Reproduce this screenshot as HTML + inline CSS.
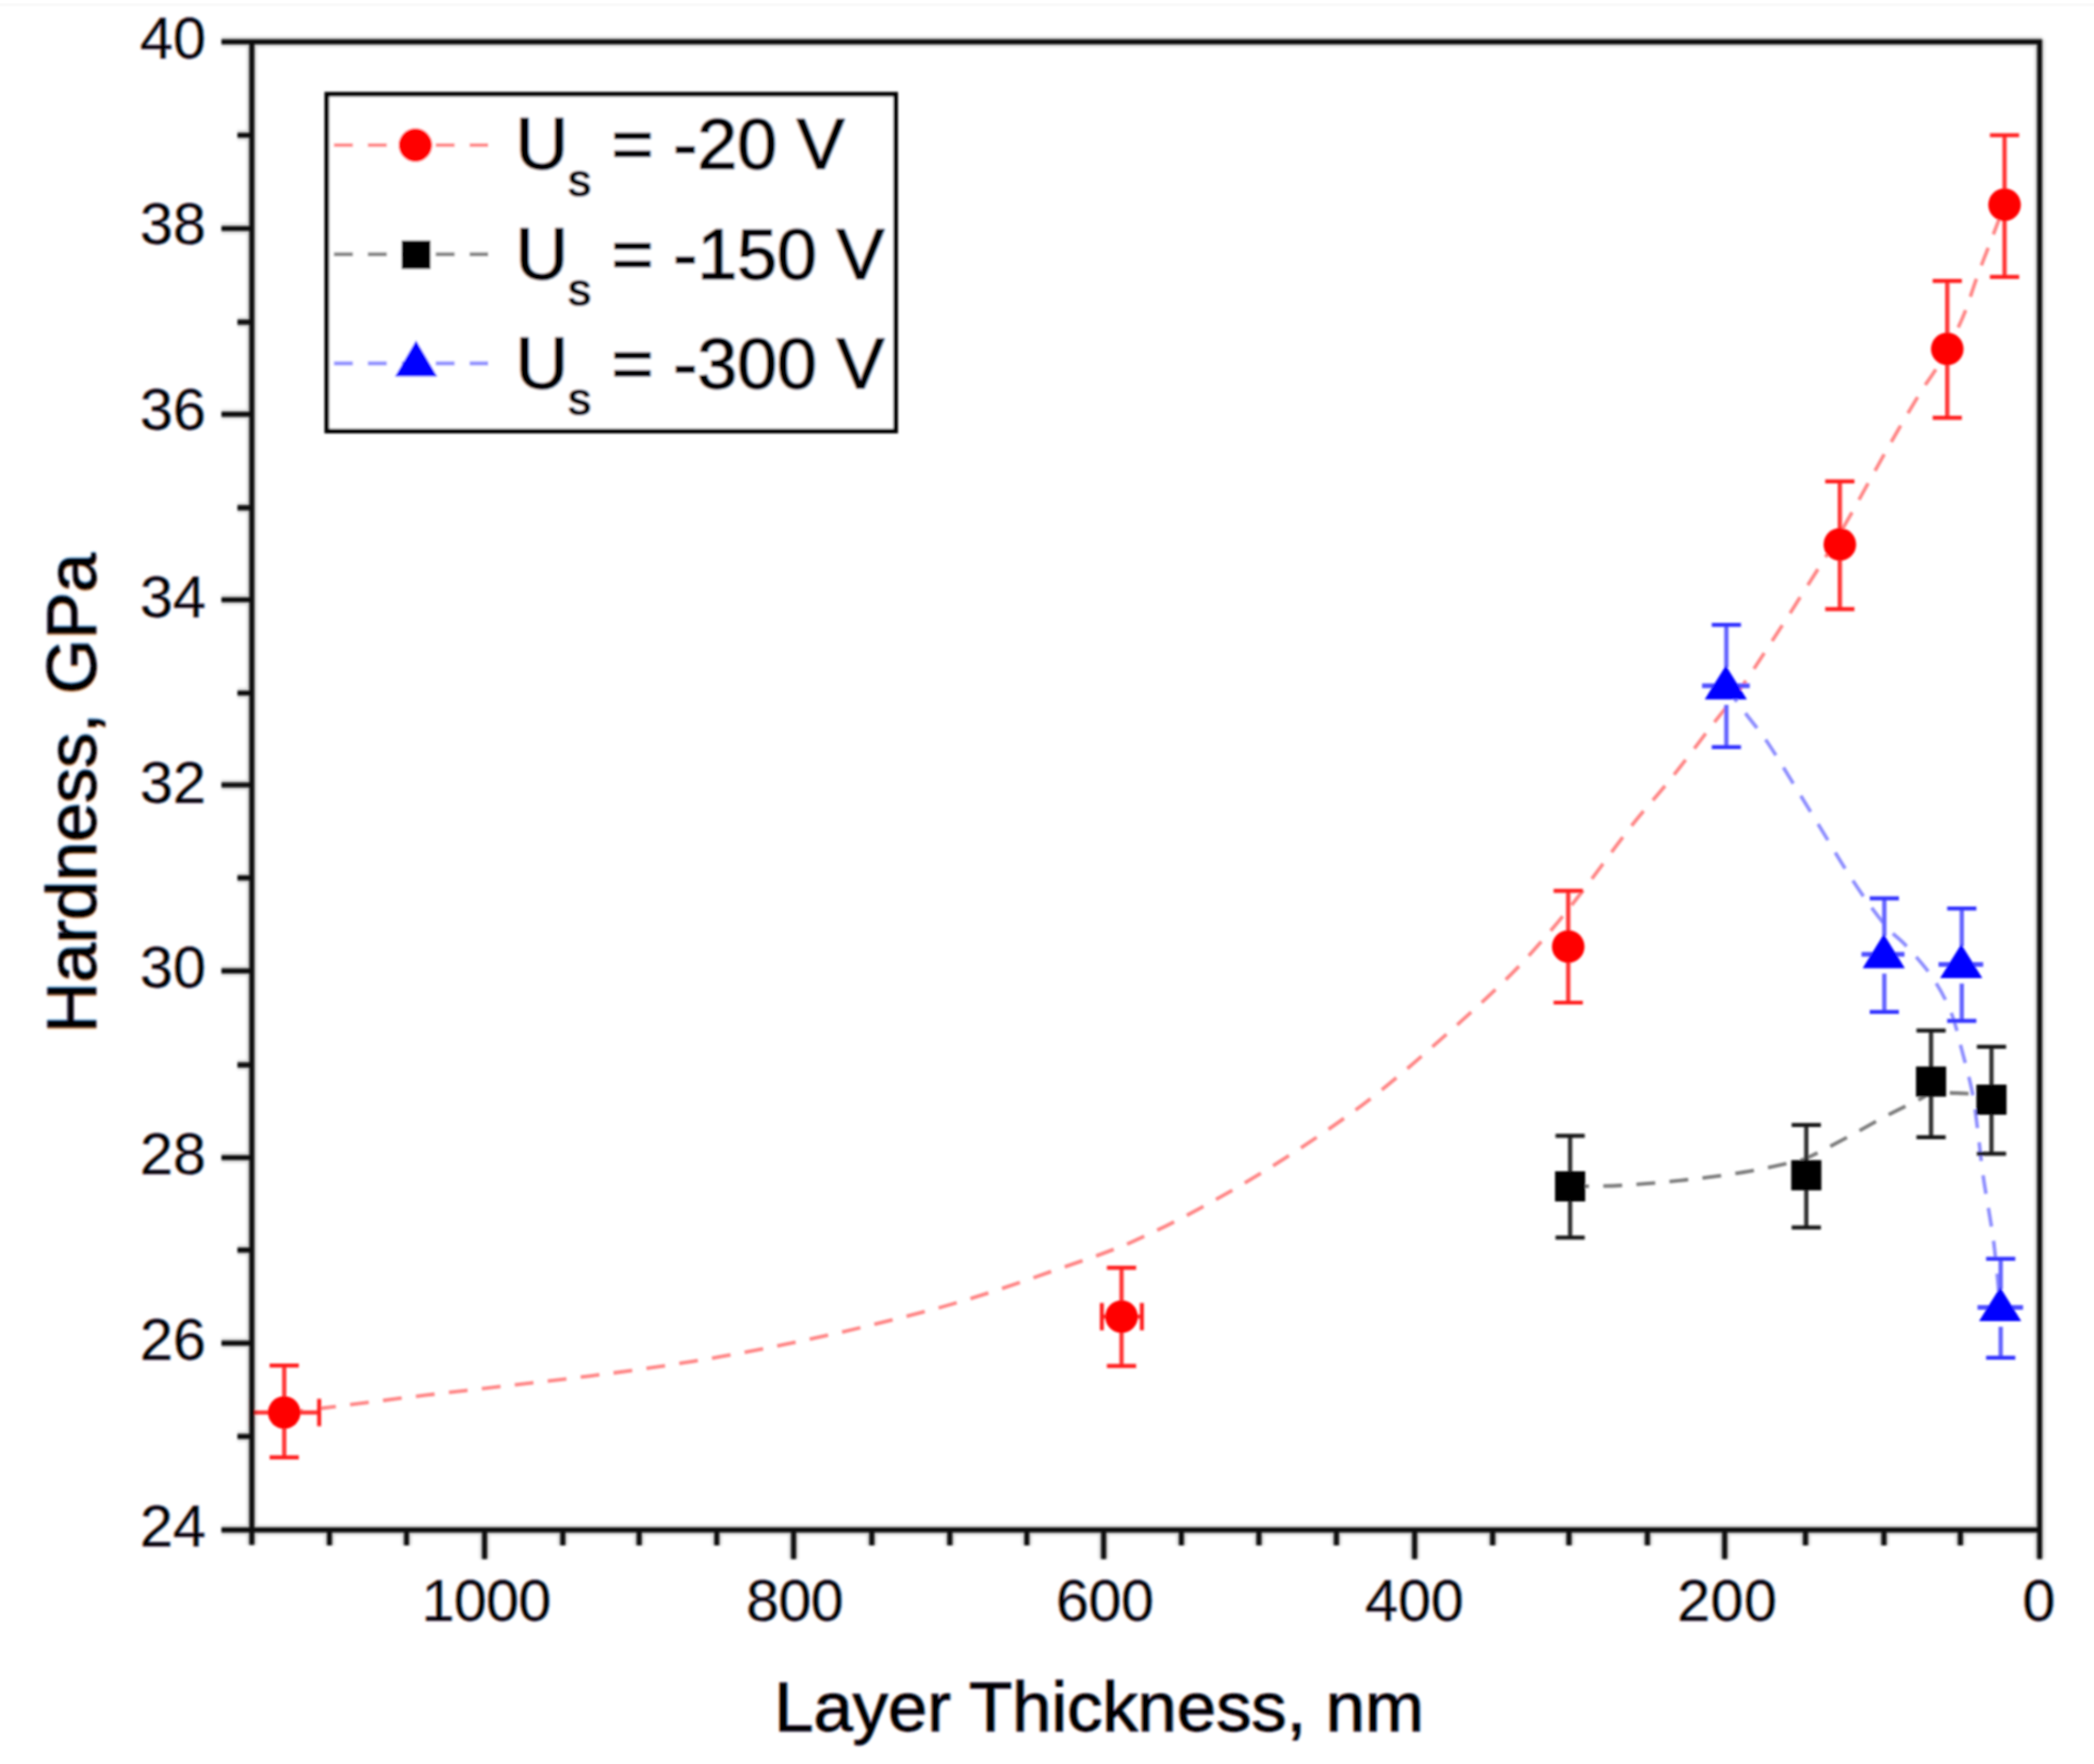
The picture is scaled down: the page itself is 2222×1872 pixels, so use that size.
<!DOCTYPE html>
<html lang="en">
<head>
<meta charset="utf-8">
<title>Hardness vs Layer Thickness</title>
<style>
html,body{margin:0;padding:0;background:#fff;}
body{width:2222px;height:1872px;overflow:hidden;}
svg{display:block;}
text{font-family:"Liberation Sans",Arial,Helvetica,sans-serif;fill:#000;stroke:#000;stroke-width:1.3px;stroke-linejoin:round;}
.tick text{stroke-width:0.3px;}
.leg{stroke-width:1.4px;}
.tick{font-size:63px;}
.ttl{font-size:75px;}
.leg{font-size:77.5px;}
</style>
</head>
<body>
<svg width="2222" height="1872" viewBox="0 0 2222 1872">
<defs><filter id="soft" x="-5%" y="-5%" width="110%" height="110%"><feGaussianBlur stdDeviation="1.15"/></filter>
<filter id="soft2" filterUnits="userSpaceOnUse" x="0" y="0" width="2222" height="1872"><feGaussianBlur stdDeviation="0.8"/></filter>
<filter id="ct" x="-10%" y="-30%" width="120%" height="160%"><feFlood flood-color="#ff8a2a" flood-opacity="0.5" result="o"/><feComposite in="o" in2="SourceAlpha" operator="in" result="oa"/><feOffset in="oa" dx="-1.2" result="oo"/><feFlood flood-color="#2a9bff" flood-opacity="0.5" result="b"/><feComposite in="b" in2="SourceAlpha" operator="in" result="ba"/><feOffset in="ba" dx="1.2" result="bo"/><feMerge><feMergeNode in="oo"/><feMergeNode in="bo"/><feMergeNode in="SourceGraphic"/></feMerge></filter></defs>
<rect width="2222" height="1872" fill="#fff"/>
<rect x="0" y="3.5" width="2222" height="3" fill="#f9f9f9"/>
<g filter="url(#soft)">
<path d="M301.6 1499.0 C314.8 1497.5 328.0 1496.1 341.2 1494.5 C377.8 1490.0 414.4 1485.1 451.0 1480.7 C482.8 1476.9 514.7 1473.4 546.5 1469.7 C578.3 1465.9 610.2 1462.4 642.0 1458.2 C673.9 1454.0 705.8 1449.5 737.6 1444.3 C769.5 1439.0 801.3 1433.2 833.0 1426.7 C865.0 1420.2 896.9 1413.0 928.6 1405.2 C960.6 1397.4 992.6 1389.4 1024.1 1379.9 C1056.2 1370.3 1087.9 1359.0 1119.6 1347.9 C1146.5 1338.5 1173.9 1329.8 1200.0 1318.4 C1229.0 1305.8 1257.3 1291.2 1285.0 1275.9 C1313.9 1260.0 1342.3 1242.9 1370.0 1224.9 C1399.0 1206.1 1427.7 1186.6 1455.0 1165.4 C1484.4 1142.6 1512.2 1117.8 1540.0 1093.1 C1561.8 1073.8 1583.3 1054.1 1603.8 1033.6 C1618.7 1018.7 1632.6 1002.8 1646.3 986.8 C1658.1 973.0 1669.2 958.7 1680.3 944.3 C1697.6 921.8 1713.8 898.6 1731.3 876.3 C1745.0 858.9 1760.1 842.6 1773.9 825.3 C1788.4 807.2 1802.2 788.4 1816.4 770.0 C1826.3 757.2 1836.7 744.9 1846.1 731.8 C1858.0 715.2 1868.9 697.9 1880.1 680.8 C1890.9 664.3 1901.5 647.7 1912.0 631.0 C1925.8 609.1 1939.9 587.3 1953.0 565.0 C1970.6 535.0 1986.8 504.2 2004.0 474.0 C2015.1 454.6 2026.3 435.3 2038.0 416.2 C2044.5 405.6 2052.3 395.8 2058.4 385.0 C2067.0 369.7 2075.3 354.1 2082.2 338.0 C2088.9 322.6 2093.3 306.2 2099.2 290.4 C2104.7 275.6 2110.6 261.0 2116.2 246.2 C2119.9 236.6 2123.4 226.9 2127.0 217.3" fill="none" stroke="#ff8484" stroke-width="3.8" stroke-dasharray="20 15.2"/>
<path d="M1666.1 1259.0 C1684.1 1258.7 1702.1 1259.0 1720.0 1258.0 C1743.4 1256.7 1766.7 1254.5 1790.0 1252.0 C1810.1 1249.8 1830.1 1247.3 1850.0 1244.0 C1866.8 1241.3 1883.4 1237.7 1900.0 1234.0 C1905.8 1232.7 1911.6 1231.4 1917.0 1229.0 C1931.6 1222.4 1945.8 1214.5 1960.0 1207.0 C1973.4 1199.9 1986.5 1192.1 2000.0 1185.0 C2013.2 1178.1 2026.7 1171.8 2040.0 1165.0 C2043.1 1163.4 2045.7 1160.5 2049.0 1160.0 C2057.4 1158.8 2066.3 1159.7 2075.0 1160.0 C2087.7 1160.4 2100.3 1161.3 2113.0 1162.0" fill="none" stroke="#7c7c7c" stroke-width="3.8" stroke-dasharray="20 15.2"/>
<path d="M1831.3 728.5 C1838.5 738.3 1845.7 748.2 1853.0 758.0 C1860.3 767.7 1868.2 777.0 1875.0 787.0 C1885.5 802.6 1895.1 819.0 1905.0 835.0 C1915.1 851.3 1925.0 867.7 1935.0 884.0 C1943.3 897.7 1951.4 911.5 1960.0 925.0 C1968.0 937.5 1976.3 950.0 1985.0 962.0 C1991.3 970.6 1997.9 979.1 2005.0 987.0 C2010.2 992.8 2016.8 997.2 2022.0 1003.0 C2031.9 1013.9 2042.1 1024.8 2050.3 1036.9 C2058.1 1048.4 2064.9 1060.9 2070.1 1073.7 C2075.3 1086.4 2078.0 1100.1 2081.5 1113.4 C2085.5 1128.5 2089.7 1143.5 2092.8 1158.8 C2095.4 1171.9 2096.8 1185.2 2098.5 1198.5 C2100.6 1214.5 2101.9 1230.7 2104.2 1246.7 C2107.6 1270.4 2112.4 1293.9 2115.5 1317.6 C2118.5 1341.0 2120.2 1364.5 2122.6 1388.0" fill="none" stroke="#8c8cff" stroke-width="3.8" stroke-dasharray="20 15.2"/>
<g class="tick" text-anchor="end" filter="url(#ct)">
<text transform="translate(218.6 61.7) scale(1 1)">40</text>
<text transform="translate(218.6 258.5) scale(1 1)">38</text>
<text transform="translate(218.6 456.0) scale(1 1)">36</text>
<text transform="translate(218.6 655.4) scale(1 1)">34</text>
<text transform="translate(218.6 851.5) scale(1 1)">32</text>
<text transform="translate(218.6 1048.2) scale(1 1)">30</text>
<text transform="translate(218.6 1245.8) scale(1 1)">28</text>
<text transform="translate(218.6 1443.3) scale(1 1)">26</text>
<text transform="translate(218.6 1640.5) scale(1 1)">24</text>
</g>
<g class="tick" text-anchor="middle" filter="url(#ct)">
<text letter-spacing="-0.8" transform="translate(515.8 1720.3) scale(1 1)">1000</text>
<text letter-spacing="-0.8" transform="translate(843.1 1720.3) scale(1 1)">800</text>
<text letter-spacing="-0.5" transform="translate(1172.2 1720.3) scale(1 1)">600</text>
<text letter-spacing="-0.2" transform="translate(1500.8 1720.3) scale(1 1)">400</text>
<text letter-spacing="0.4" transform="translate(1832.8 1720.3) scale(1 1)">200</text>
<text letter-spacing="0" transform="translate(2163.4 1720.3) scale(1 1)">0</text>
</g>
<text filter="url(#ct)" class="ttl" x="821.5" y="1836.6" letter-spacing="-0.06">Layer Thickness, nm</text>
<text filter="url(#ct)" class="ttl" transform="translate(101.7 1096.5) rotate(-90)" letter-spacing="-0.27">Hardness, GPa</text>
<path d="M301.6 1449.2V1546.7" stroke="#ff3838" stroke-width="4.6" fill="none"/>
<path d="M286.1 1449.2H317.1M286.1 1546.7H317.1" stroke="#ff1c1c" stroke-width="4.2" fill="none"/>
<path d="M267.0 1499.0H338.7" stroke="#ff3838" stroke-width="4.6" fill="none"/>
<path d="M267.0 1484.5V1513.5M338.7 1484.5V1513.5" stroke="#ff1c1c" stroke-width="4.2" fill="none"/>
<path d="M1190.1 1345.4V1449.7" stroke="#ff3838" stroke-width="4.6" fill="none"/>
<path d="M1174.6 1345.4H1205.6M1174.6 1449.7H1205.6" stroke="#ff1c1c" stroke-width="4.2" fill="none"/>
<path d="M1169.2 1397.3H1211.7" stroke="#ff3838" stroke-width="4.6" fill="none"/>
<path d="M1169.2 1382.8V1411.8M1211.7 1382.8V1411.8" stroke="#ff1c1c" stroke-width="4.2" fill="none"/>
<path d="M1664.1 945.4V1064.0" stroke="#ff3838" stroke-width="4.6" fill="none"/>
<path d="M1648.6 945.4H1679.6M1648.6 1064.0H1679.6" stroke="#ff1c1c" stroke-width="4.2" fill="none"/>
<path d="M1952.3 510.8V646.4" stroke="#ff3838" stroke-width="4.6" fill="none"/>
<path d="M1936.8 510.8H1967.8M1936.8 646.4H1967.8" stroke="#ff1c1c" stroke-width="4.2" fill="none"/>
<path d="M2066.3 298.2V443.4" stroke="#ff3838" stroke-width="4.6" fill="none"/>
<path d="M2050.8 298.2H2081.8M2050.8 443.4H2081.8" stroke="#ff1c1c" stroke-width="4.2" fill="none"/>
<path d="M2127.1 143.5V293.8" stroke="#ff3838" stroke-width="4.6" fill="none"/>
<path d="M2111.6 143.5H2142.6M2111.6 293.8H2142.6" stroke="#ff1c1c" stroke-width="4.2" fill="none"/>
<circle cx="301.6" cy="1499.0" r="17.3" fill="#ff0000"/>
<circle cx="1190.1" cy="1397.3" r="17.3" fill="#ff0000"/>
<circle cx="1664.1" cy="1004.6" r="17.3" fill="#ff0000"/>
<circle cx="1952.3" cy="577.8" r="17.3" fill="#ff0000"/>
<circle cx="2066.3" cy="370.3" r="17.3" fill="#ff0000"/>
<circle cx="2127.1" cy="217.3" r="17.3" fill="#ff0000"/>
<path d="M1666.1 1205.4V1313.3" stroke="#333333" stroke-width="4.6" fill="none"/>
<path d="M1650.6 1205.4H1681.6M1650.6 1313.3H1681.6" stroke="#141414" stroke-width="4.2" fill="none"/>
<path d="M1916.7 1193.8V1302.7" stroke="#333333" stroke-width="4.6" fill="none"/>
<path d="M1901.2 1193.8H1932.2M1901.2 1302.7H1932.2" stroke="#141414" stroke-width="4.2" fill="none"/>
<path d="M2049.1 1093.6V1206.9" stroke="#333333" stroke-width="4.6" fill="none"/>
<path d="M2033.6 1093.6H2064.6M2033.6 1206.9H2064.6" stroke="#141414" stroke-width="4.2" fill="none"/>
<path d="M2113.2 1110.8V1224.3" stroke="#333333" stroke-width="4.6" fill="none"/>
<path d="M2097.7 1110.8H2128.7M2097.7 1224.3H2128.7" stroke="#141414" stroke-width="4.2" fill="none"/>
<rect x="1650.1" y="1243.0" width="32" height="32" fill="#000"/>
<rect x="1900.7" y="1231.2" width="32" height="32" fill="#000"/>
<rect x="2033.1" y="1131.8" width="32" height="32" fill="#000"/>
<rect x="2097.2" y="1151.0" width="32" height="32" fill="#000"/>
<path d="M1831.9 663.2V708.5M1831.9 748.1V792.9" stroke="#6464ff" stroke-width="4.6" fill="none"/>
<path d="M1816.4 663.2H1847.4M1816.4 792.9H1847.4" stroke="#3030ff" stroke-width="4.2" fill="none"/>
<path d="M1806.1 727.7H1856.7" stroke="#5050ff" stroke-width="5" fill="none"/>
<path d="M1999.5 953.3V993.6M1999.5 1033.2V1073.9" stroke="#6464ff" stroke-width="4.6" fill="none"/>
<path d="M1984.0 953.3H2015.0M1984.0 1073.9H2015.0" stroke="#3030ff" stroke-width="4.2" fill="none"/>
<path d="M1975.3 1012.8H2020.9" stroke="#5050ff" stroke-width="5" fill="none"/>
<path d="M2081.7 964.2V1004.2M2081.7 1043.8V1083.4" stroke="#6464ff" stroke-width="4.6" fill="none"/>
<path d="M2066.2 964.2H2097.2M2066.2 1083.4H2097.2" stroke="#3030ff" stroke-width="4.2" fill="none"/>
<path d="M2057.0 1023.4H2104.4" stroke="#5050ff" stroke-width="5" fill="none"/>
<path d="M2123.0 1335.8V1368.3M2123.0 1407.9V1440.8" stroke="#6464ff" stroke-width="4.6" fill="none"/>
<path d="M2107.5 1335.8H2138.5M2107.5 1440.8H2138.5" stroke="#3030ff" stroke-width="4.2" fill="none"/>
<path d="M2098.4 1387.5H2146.7" stroke="#5050ff" stroke-width="5" fill="none"/>
<path d="M1831.3 706.2L1853.7 742.3H1808.9Z" fill="#0000ff"/>
<path d="M1998.9 991.3L2021.3 1027.4H1976.5Z" fill="#0000ff"/>
<path d="M2081.1 1001.9L2103.5 1038.0H2058.7Z" fill="#0000ff"/>
<path d="M2122.4 1366.0L2144.8 1402.1H2100.0Z" fill="#0000ff"/>
<path d="M235 44.3 H2166.9M235 1623.6 H2166.9M267.2 41.7 V1639.5M2164.3 41.7 V1654.5M252.0 143.5H267.2M235.0 242.5H267.2M252.0 341.9H267.2M235.0 439.6H267.2M252.0 538.8H267.2M235.0 636.5H267.2M252.0 735.5H267.2M235.0 833.0H267.2M252.0 931.7H267.2M235.0 1030.4H267.2M252.0 1130.1H267.2M235.0 1228.5H267.2M252.0 1326.6H267.2M235.0 1425.4H267.2M252.0 1524.4H267.2M349.6 1623.6V1640.0M431.4 1623.6V1640.0M514.2 1623.6V1654.5M597.2 1623.6V1640.0M678.2 1623.6V1640.0M760.6 1623.6V1640.0M842.1 1623.6V1654.5M925.1 1623.6V1640.0M1007.9 1623.6V1640.0M1089.6 1623.6V1640.0M1171.1 1623.6V1654.5M1253.6 1623.6V1640.0M1335.9 1623.6V1640.0M1418.1 1623.6V1640.0M1501.1 1623.6V1654.5M1583.9 1623.6V1640.0M1664.9 1623.6V1640.0M1748.1 1623.6V1640.0M1830.1 1623.6V1654.5M1915.9 1623.6V1640.0M1999.1 1623.6V1640.0M2080.2 1623.6V1640.0" stroke="#000" stroke-opacity="0.2" stroke-width="9.8" fill="none" stroke-linecap="butt" filter="url(#soft2)"/>
<path d="M235 44.3 H2166.9M235 1623.6 H2166.9M267.2 41.7 V1639.5M2164.3 41.7 V1654.5M252.0 143.5H267.2M235.0 242.5H267.2M252.0 341.9H267.2M235.0 439.6H267.2M252.0 538.8H267.2M235.0 636.5H267.2M252.0 735.5H267.2M235.0 833.0H267.2M252.0 931.7H267.2M235.0 1030.4H267.2M252.0 1130.1H267.2M235.0 1228.5H267.2M252.0 1326.6H267.2M235.0 1425.4H267.2M252.0 1524.4H267.2M349.6 1623.6V1640.0M431.4 1623.6V1640.0M514.2 1623.6V1654.5M597.2 1623.6V1640.0M678.2 1623.6V1640.0M760.6 1623.6V1640.0M842.1 1623.6V1654.5M925.1 1623.6V1640.0M1007.9 1623.6V1640.0M1089.6 1623.6V1640.0M1171.1 1623.6V1654.5M1253.6 1623.6V1640.0M1335.9 1623.6V1640.0M1418.1 1623.6V1640.0M1501.1 1623.6V1654.5M1583.9 1623.6V1640.0M1664.9 1623.6V1640.0M1748.1 1623.6V1640.0M1830.1 1623.6V1654.5M1915.9 1623.6V1640.0M1999.1 1623.6V1640.0M2080.2 1623.6V1640.0" stroke="#080808" stroke-width="5.2" fill="none" stroke-linecap="butt"/>
<rect x="346.8" y="100" width="603.6" height="357.4" fill="#fff" stroke="#000" stroke-width="5"/>
<path d="M354.4 154H518" stroke="#ff8888" stroke-width="4.2" fill="none" stroke-dasharray="20 16"/>
<path d="M354.4 269.8H518" stroke="#858585" stroke-width="4.2" fill="none" stroke-dasharray="20 16"/>
<path d="M354.4 385.6H518" stroke="#9090ff" stroke-width="4.2" fill="none" stroke-dasharray="20 16"/>
<circle cx="440.8" cy="154" r="17.8" fill="#ff0000"/>
<rect x="426.2" y="255.4" width="30.6" height="30" fill="#000"/>
<path d="M441.5 361.2L463.9 399.4H419.2Z" fill="#0000ff"/>
<text filter="url(#ct)" class="leg" x="547" y="179.3">U<tspan font-size="48" dx="0" dy="28.5" stroke-width="1.7">s</tspan><tspan dy="-28.5" dx="1" font-size="76"> = -20 V</tspan></text>
<text filter="url(#ct)" class="leg" x="547" y="295.5">U<tspan font-size="48" dx="0" dy="28.5" stroke-width="1.7">s</tspan><tspan dy="-28.5" dx="1" font-size="76"> = -150 V</tspan></text>
<text filter="url(#ct)" class="leg" x="547" y="411.6">U<tspan font-size="48" dx="0" dy="28.5" stroke-width="1.7">s</tspan><tspan dy="-28.5" dx="1" font-size="76"> = -300 V</tspan></text>
</g>
</svg>
</body>
</html>
